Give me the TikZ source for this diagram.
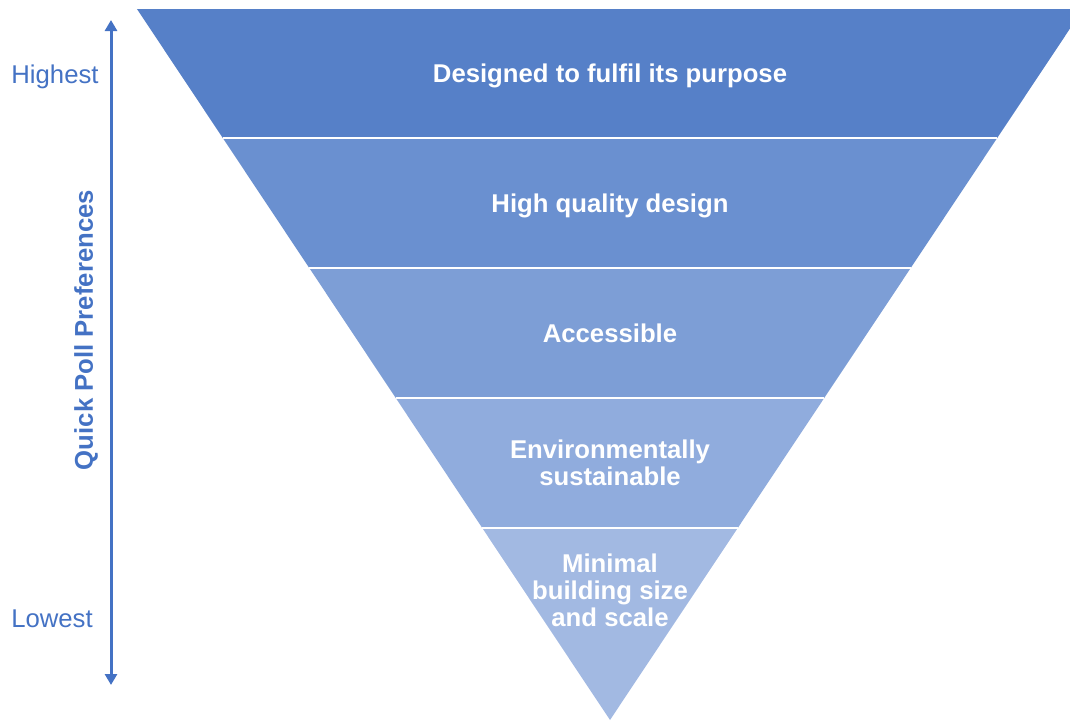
\documentclass[tikz,border=0pt]{standalone}
\usepackage{fontspec}
\setmainfont{Liberation Sans}
\usetikzlibrary{arrows.meta}
\definecolor{axisblue}{RGB}{68,114,196}
\definecolor{bandA}{RGB}{86,128,200}
\definecolor{bandB}{RGB}{106,144,208}
\definecolor{bandC}{RGB}{125,158,214}
\definecolor{bandD}{RGB}{144,172,221}
\definecolor{bandE}{RGB}{162,185,226}
\tikzset{
  bandtext/.style={text=white, align=center, inner sep=0pt, font=\fontsize{25.7}{27}\selectfont\bfseries},
  sidetext/.style={text=axisblue, inner sep=0pt, font=\fontsize{25.7}{27}\selectfont}
}
\begin{document}
\begin{tikzpicture}[x=1pt, y=-1pt]
	\useasboundingbox (0,0) rectangle (1070,721);
	\foreach \ya/\yb/\c in {9/138/bandA,138/268/bandB,268/398/bandC,398/528/bandD,528/720/bandE}
		\fill[\c] ({610-(720-\ya)*0.6653},\ya) -- ({610+(720-\ya)*0.6653},\ya) -- ({610+(720-\yb)*0.6653},\yb) -- ({610-(720-\yb)*0.6653},\yb) -- cycle;
	\foreach \y in {138,268,398,528} \draw[white, line width=2] ({610-(720-\y)*0.6653},\y)--({610+(720-\y)*0.6653},\y);
	\node[bandtext] (purpose) at (610,76) {Designed to fulfil its purpose};
	\node[bandtext] (quality) at (610,206) {High quality design};
	\node[bandtext] (access) at (610,333) {Accessible};
	\node[bandtext] (green) at (610,463) {Environmentally\\sustainable};
	\node[bandtext] (minimal) at (610,590) {Minimal\\building size\\and scale};
	\coordinate (high end) at (111,20);
	\coordinate (low end) at (111,685);
	\draw[axisblue, line width=3, {Triangle[length=11,width=12]}-{Triangle[length=11,width=12]}] (high end) -- (low end);
	\node[sidetext] (highest) at (55,77) {Highest};
	\node[sidetext] (lowest) at (52,619) {Lowest};
	\node[sidetext, font=\fontsize{25.7}{27}\selectfont\bfseries, rotate=90] (poll) at (86,330) {Quick Poll Preferences};
\end{tikzpicture}
\end{document}
